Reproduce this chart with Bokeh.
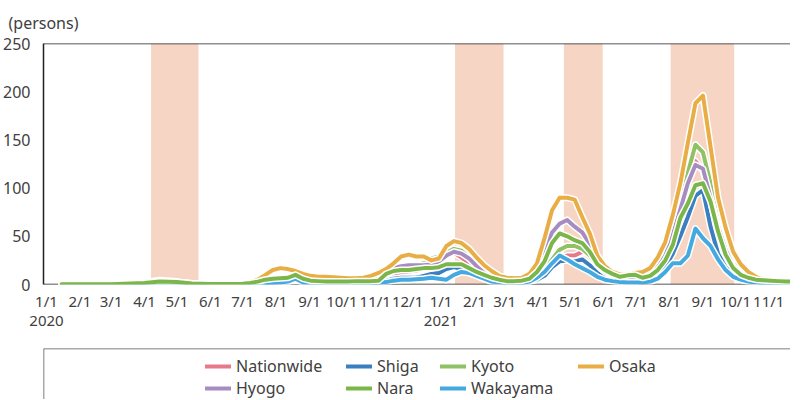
import pandas as pd
from bokeh.plotting import figure
from bokeh.models import Range1d, FixedTicker, BoxAnnotation, Span, Legend, LegendItem
from bokeh.layouts import column
from bokeh.embed import file_html
from bokeh.resources import INLINE

# ---------------- data ----------------
pre_dates = ["2020-01-15", "2020-02-01", "2020-03-01", "2020-04-01", "2020-04-15",
             "2020-05-01", "2020-05-15", "2020-06-01", "2020-06-15"]
weekly_dates = [d.strftime("%Y-%m-%d") for d in pd.date_range("2020-07-01", periods=75, freq="7D")]
dates = pre_dates + weekly_dates

nationwide = [0.0, 0.0, 0.1, 1.2, 3.3, 2.5, 0.6, 0.2, 0.3,
              0.7, 1.6, 2.9, 4.5, 6.2, 7.4, 7.3, 6.5, 5.1, 4.2,
              3.6, 3.4, 3.2, 3.2, 3.3, 3.4, 3.5, 3.9, 4.5, 7.0,
              10.5, 12.5, 13.5, 14.5, 16.5, 18.5, 21, 30, 33, 28,
              22, 16, 11, 8, 6.5, 6, 6.3, 7, 8.5, 11,
              15, 20, 26, 30, 30, 34, 31, 22, 15, 11,
              8.5, 7.5, 7.5, 9, 12, 19, 32, 52, 78, 105,
              128, 118, 90, 60, 38, 20, 10, 6, 3.7, 2.6,
              1.8, 1.4, 1.1, 0.9, 0.8]
shiga = [0, 0, 0.1, 0.5, 2.0, 1.5, 0.3, 0.1, 0.1,
         0.2, 0.5, 1, 1.5, 2, 3, 3, 4, 3, 2,
         1.5, 1.2, 1, 1, 1, 1.2, 1.5, 1.8, 2, 4,
         6, 7, 7, 7, 9, 11, 12, 16, 18, 16,
         12, 9, 6, 4, 3, 2.5, 2.5, 3, 3, 5,
         9, 18, 24, 25, 24, 26, 20, 12, 7, 4,
         3, 3, 3, 4, 6, 10, 18, 32, 50, 70,
         92, 98, 60, 32, 18, 10, 6, 4, 3, 2.5,
         2, 1.5, 1.2, 1, 1]
kyoto = [0.1, 0.1, 0.3, 1, 2.5, 2, 0.5, 0.2, 0.3,
         0.5, 1, 2, 4, 6, 7, 6, 5, 4, 3,
         2.5, 2, 2, 2, 2, 2.5, 3, 4, 6, 10,
         14, 17, 19, 20, 22, 27, 29, 33, 37, 35,
         28, 20, 13, 8, 5, 4, 3.5, 4, 5, 9,
         16, 26, 36, 40, 40, 37, 30, 20, 13, 9,
         6, 5, 5, 5, 8, 18, 32, 57, 86, 116,
         145, 137, 105, 64, 39, 22, 12, 8, 5, 4,
         3.5, 3, 2.5, 2, 2]
osaka = [0.1, 0.1, 0.5, 2, 4.5, 3, 1, 0.5, 0.5,
         1.5, 2.5, 5, 10, 15, 17, 16, 14, 11, 9,
         8, 8, 7.5, 7, 6.5, 6.5, 7, 9, 12, 16,
         22, 29, 31, 29, 29, 25, 27, 40, 45, 43,
         37, 28, 20, 14, 9, 7, 6.5, 7, 11, 22,
         48, 77, 90, 90, 88, 70, 53, 30, 19, 13,
         10.5, 10, 12, 13, 17, 28, 44, 72, 105, 147,
         188, 196, 143, 90, 59, 34, 21, 13, 8, 5,
         4, 3, 2.5, 2, 2]
hyogo = [0.1, 0.1, 0.3, 1.5, 3, 2, 0.5, 0.2, 0.2,
         0.5, 1, 2, 4, 6, 6.5, 6, 5, 4, 3,
         2.5, 2, 2, 2, 2, 2.5, 3, 4, 7, 12,
         17, 19, 20, 20, 20, 21, 24, 30, 34, 32,
         27, 19, 12, 8, 5, 4, 4, 5, 10, 20,
         37, 54, 63, 67, 60, 54, 42, 25, 15, 10,
         7, 5, 5, 6, 9, 18, 30, 52, 78, 105,
         124, 120, 90, 60, 36, 19, 11, 7, 5, 3.5,
         3, 2.5, 2, 2, 2]
nara = [0.2, 0.2, 0.3, 1.5, 3, 2.5, 1, 0.5, 0.5,
        0.8, 1.5, 3, 5, 6, 6.5, 7, 10, 6, 4,
        3.5, 3, 3, 3, 3, 3.5, 3.5, 3.5, 4, 11,
        14, 15, 15, 16, 17, 17, 18, 21, 21, 21,
        17, 13, 10, 7, 5, 3.5, 3.5, 4, 6, 13,
        24, 43, 53, 50, 46, 43, 34, 21, 15, 11,
        8, 9.5, 10, 7, 9, 15, 25, 41, 69, 84,
        103, 105, 86, 55, 31, 17, 10, 7, 5, 4.5,
        4, 3.5, 3, 3, 2.5]
wakayama = [0.1, 0.3, 0.5, 1, 1.5, 1, 0.3, 0.1, 0.1,
            0.2, 0.3, 0.5, 1, 1.5, 2, 3, 6, 2, 1,
            0.8, 0.7, 0.7, 0.8, 1, 1.2, 1.3, 1.5, 1.5, 2.5,
            4, 5, 5, 5.5, 6, 7, 6, 5, 10, 13,
            12, 9, 6, 3, 2, 1.5, 1, 1.5, 3, 7,
            13, 22, 30, 26, 21, 17, 13, 8, 5, 3.5,
            2.5, 2, 2, 2, 3, 6, 13, 22, 22, 30,
            58, 48, 40, 26, 15, 8, 5, 3, 2, 1.5,
            1, 1, 1, 1, 1]

series_names = ["Nationwide", "Shiga", "Kyoto", "Osaka", "Hyogo", "Nara", "Wakayama"]
series_colors = ["#e7798b", "#3b7fc0", "#8fc165", "#e9ad45", "#a68cc1", "#7bb64a", "#44a9e0"]
series_values = [nationwide, shiga, kyoto, osaka, hyogo, nara, wakayama]
draw_order = ["Nationwide", "Shiga", "Kyoto", "Hyogo", "Osaka", "Wakayama", "Nara"]

emergency_start = ["2020-04-07", "2021-01-14", "2021-04-25", "2021-08-02"]
emergency_end = ["2020-05-21", "2021-02-28", "2021-05-31", "2021-09-30"]

tick_dates = ["2020-01-01", "2020-02-01", "2020-03-01", "2020-04-01", "2020-05-01", "2020-06-01",
              "2020-07-01", "2020-08-01", "2020-09-01", "2020-10-01", "2020-11-01", "2020-12-01",
              "2021-01-01", "2021-02-01", "2021-03-01", "2021-04-01", "2021-05-01", "2021-06-01",
              "2021-07-01", "2021-08-01", "2021-09-01", "2021-10-01", "2021-11-01"]
tick_labels = ["1/1\n2020", "2/1", "3/1", "4/1", "5/1", "6/1", "7/1", "8/1", "9/1", "10/1", "11/1", "12/1",
               "1/1\n2021", "2/1", "3/1", "4/1", "5/1", "6/1", "7/1", "8/1", "9/1", "10/1", "11/1"]
y_ticks = [0, 50, 100, 150, 200, 250]

# ---------------- helpers ----------------
origin = pd.Timestamp("2020-01-01")
def to_days(lst):
    return [(pd.Timestamp(d) - origin).days for d in lst]

x_days = to_days(dates)
FONT = "Noto Sans"
TXT = "#404040"
AXC = "#231f20"

# ---------------- main figure ----------------
p = figure(width=790, height=339, output_backend="svg", toolbar_location=None,
           x_range=Range1d(-2.75, 690.2), y_range=Range1d(0, 250),
           min_border_left=35, min_border_right=0, min_border_top=42, min_border_bottom=55)
p.outline_line_color = None
p.grid.visible = False
p.background_fill_color = "white"
p.border_fill_color = "white"

p.title.text = "(persons)"
p.title.align = "left"
p.title.offset = -35
p.title.standoff = 19
p.title.text_font = FONT
p.title.text_font_size = "16px"
p.title.text_font_style = "normal"
p.title.text_color = TXT

for s, e in zip(to_days(emergency_start), to_days(emergency_end)):
    p.add_layout(BoxAnnotation(left=s, right=e, fill_color="#f6d5c4", fill_alpha=1.0,
                               line_color=None, level="underlay"))

p.add_layout(Span(location=250, dimension="width", line_color=AXC, line_width=1.5))
p.add_layout(Span(location=0, dimension="width", line_color=AXC, line_width=1.5, level="underlay"))

for name in draw_order:
    i = series_names.index(name)
    p.line(x_days, series_values[i], line_color="white", line_width=7, line_join="round", line_cap="round")
    p.line(x_days, series_values[i], line_color=series_colors[i], line_width=4, line_join="round", line_cap="round")

tick_days = to_days(tick_dates)
p.xaxis.ticker = FixedTicker(ticks=tick_days)
p.xaxis.major_label_overrides = {d: l for d, l in zip(tick_days, tick_labels)}
p.yaxis.ticker = FixedTicker(ticks=y_ticks)
p.xaxis.axis_line_color = None
p.yaxis.axis_line_color = AXC
p.yaxis.axis_line_width = 1.5
for ax in (p.xaxis[0], p.yaxis[0]):
    ax.major_tick_line_color = None
    ax.minor_tick_line_color = None
    ax.major_label_text_font = FONT
    ax.major_label_text_color = TXT
p.xaxis.major_label_text_font_size = "15px"
p.xaxis.major_label_text_line_height = 0.95
p.xaxis.major_label_standoff = 0
p.yaxis.major_label_text_font_size = "16px"
p.yaxis.major_label_standoff = 7

# ---------------- legend figure ----------------
p2 = figure(width=790, height=60, output_backend="svg", toolbar_location=None,
            x_range=Range1d(0, 1), y_range=Range1d(0, 1),
            min_border_left=35, min_border_right=0, min_border_top=9, min_border_bottom=0)
p2.outline_line_color = None
p2.axis.visible = False
p2.grid.visible = False
p2.add_layout(Span(location=1, dimension="width", line_color="#555555", line_width=1.5))
p2.add_layout(Span(location=0, dimension="height", line_color="#555555", line_width=1.5))

dummy = {}
for name, col in zip(series_names, series_colors):
    dummy[name] = p2.line([-2, -1.5], [-2, -2], line_color=col, line_width=4, line_cap="round")

legend_cols = [["Nationwide", "Hyogo"], ["Shiga", "Nara"], ["Kyoto", "Wakayama"], ["Osaka"]]
legend_x = [162, 303, 397, 535]
for names, lx in zip(legend_cols, legend_x):
    items = [LegendItem(label=n, renderers=[dummy[n]]) for n in names]
    ly = 0 if len(names) == 2 else 22
    lg = Legend(items=items, location=(lx, ly), orientation="vertical",
                padding=0, margin=0, spacing=0, glyph_width=26, glyph_height=18,
                label_height=18, label_standoff=5, border_line_color=None,
                background_fill_alpha=0, label_text_font=FONT, label_text_font_size="16px",
                label_text_color=TXT)
    p2.add_layout(lg, "center")

layout = column(p, p2)
open("out.html", "w").write(file_html(layout, INLINE))
